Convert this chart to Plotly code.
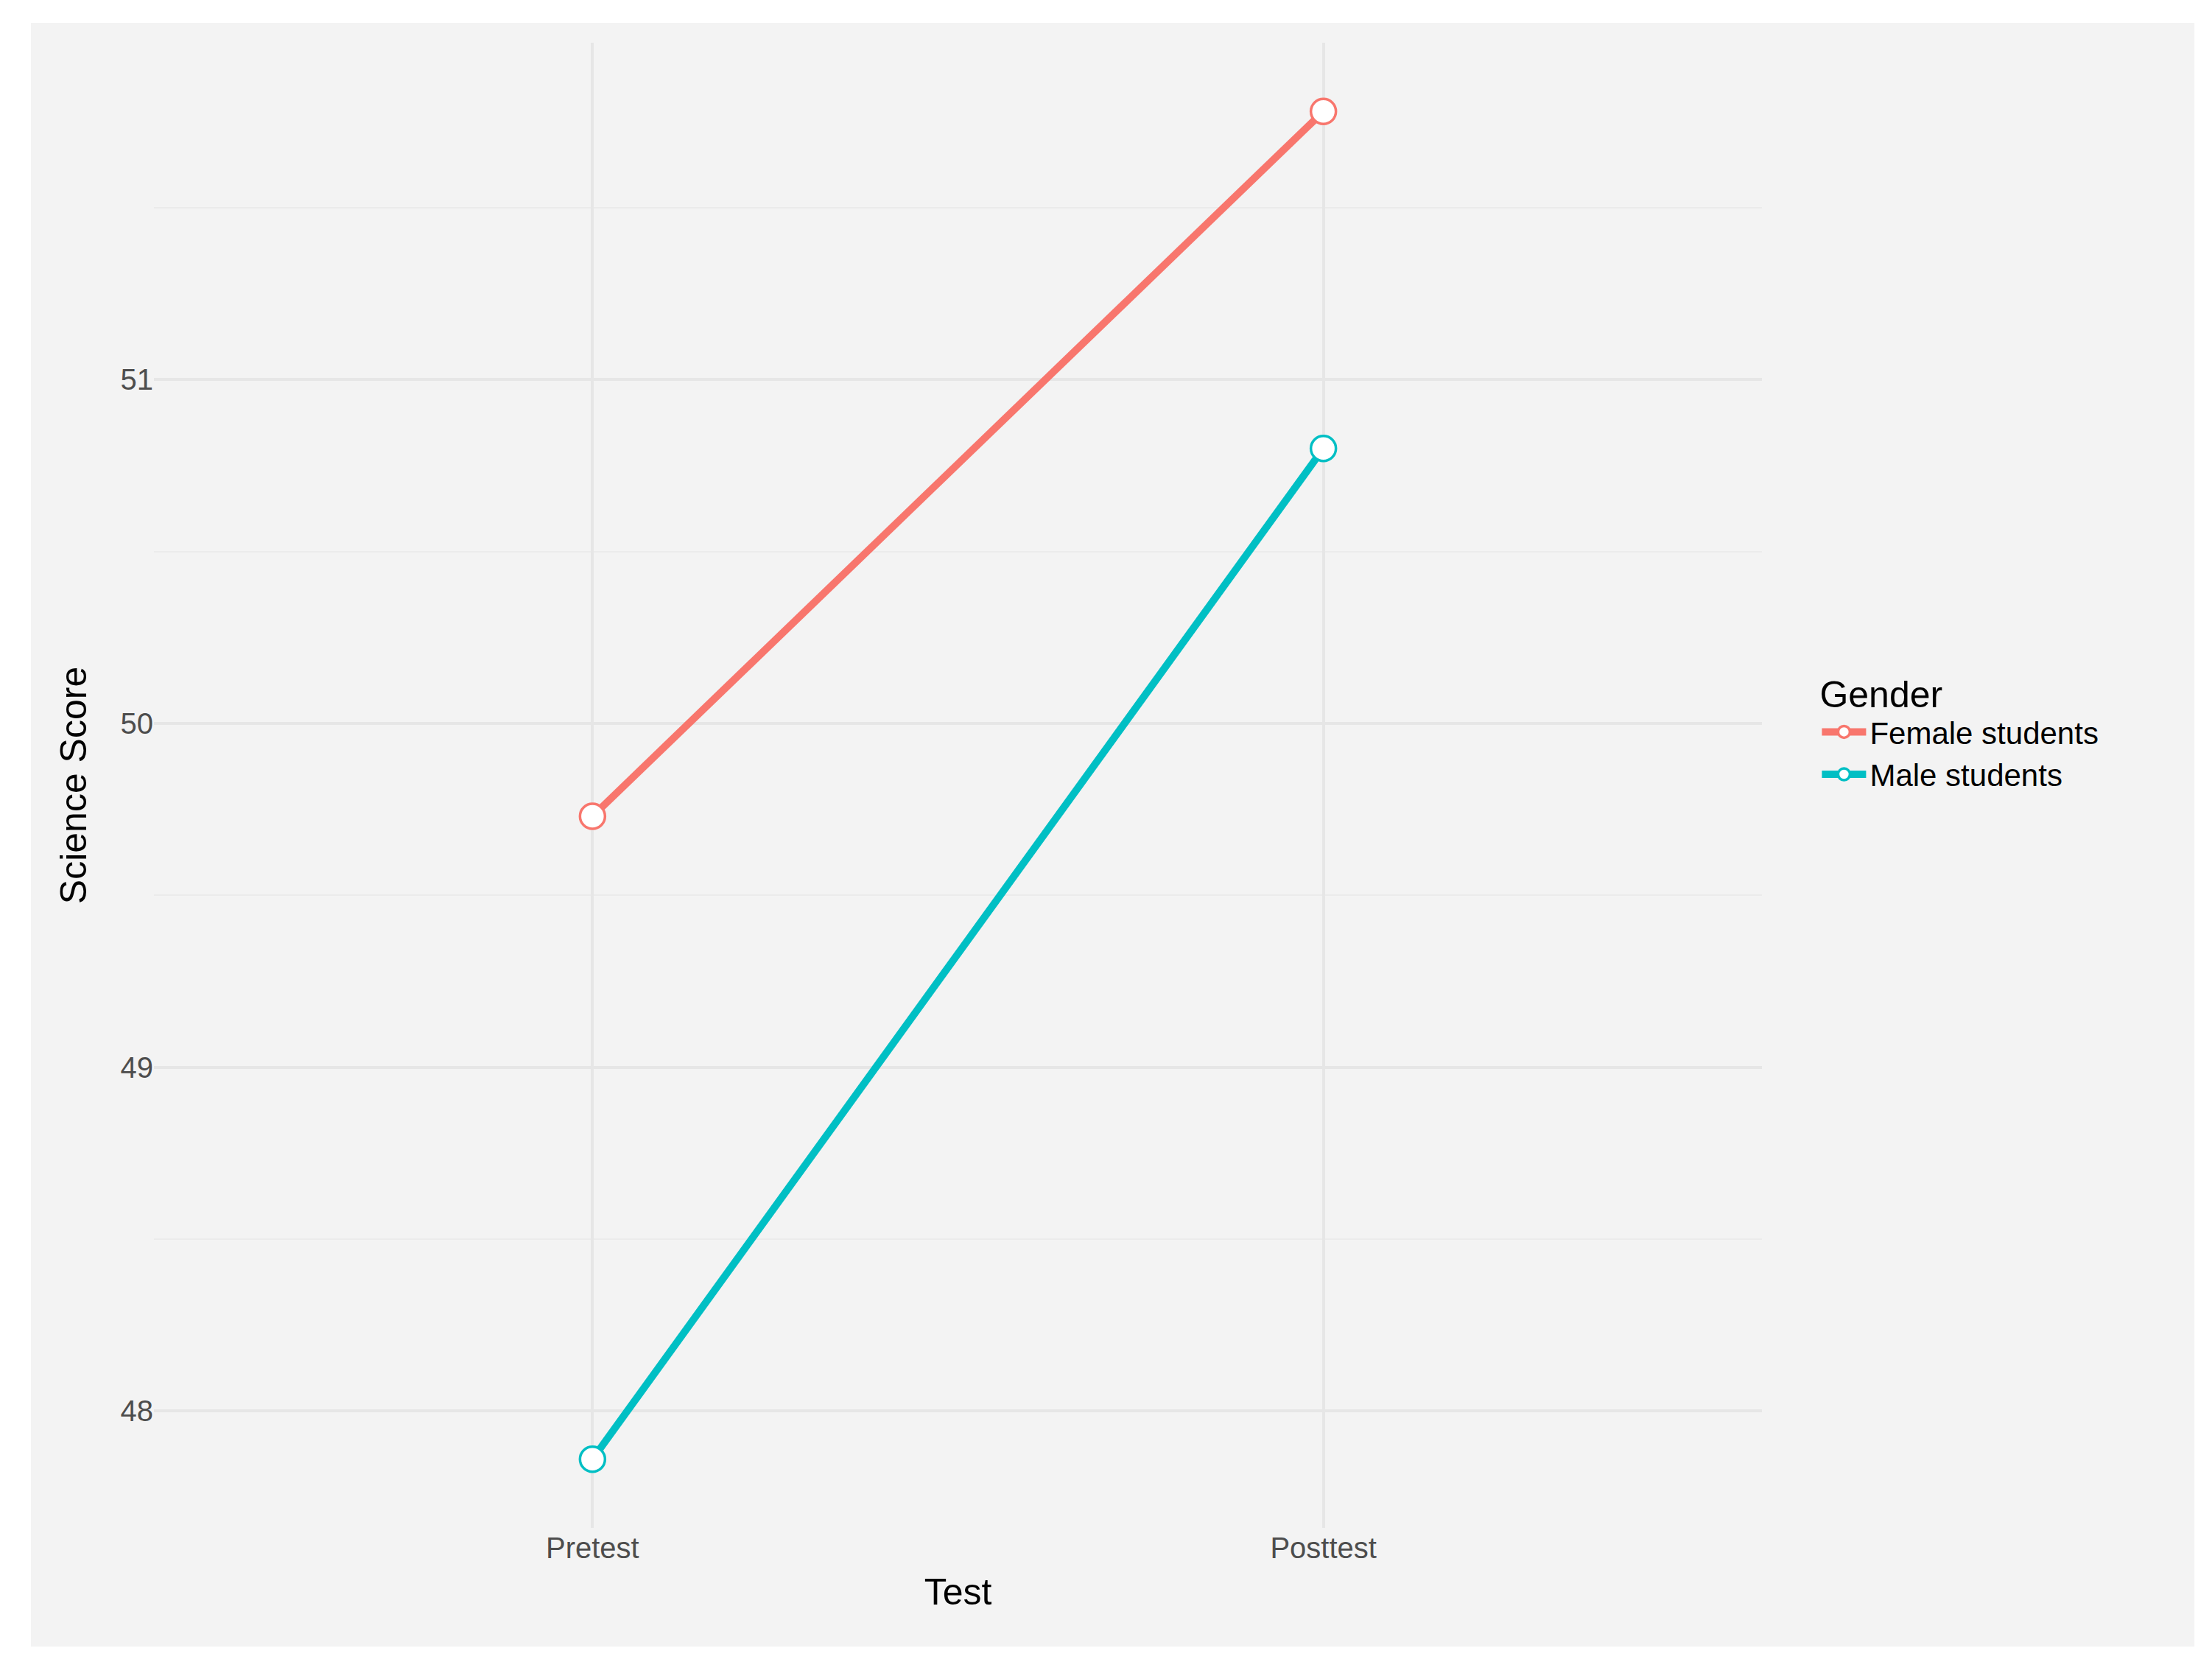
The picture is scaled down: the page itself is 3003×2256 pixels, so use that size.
import plotly.graph_objects as go

tests = ["Pretest", "Posttest"]
female = [49.73, 51.78]
male = [47.86, 50.80]
series_names = ["Female students", "Male students"]
colors = ["#F8766D", "#00BFC4"]

fig = go.Figure()
for name, vals, c in zip(series_names, [female, male], colors):
    fig.add_trace(go.Scatter(
        x=tests, y=vals, mode="lines+markers", name=name,
        line=dict(color=c, width=10),
        marker=dict(symbol="circle", size=34, color="white", line=dict(color=c, width=3.5)),
    ))

fig.add_shape(type="rect", xref="paper", yref="paper", x0=-0.0765, x1=1.269, y0=-0.0799, y1=1.0134,
              fillcolor="#f3f3f3", line=dict(width=0), layer="below")

font = "Liberation Sans, Arial, sans-serif"
fig.update_layout(
    width=3003, height=2256,
    margin=dict(l=201, r=619, t=50, b=190),
    paper_bgcolor="white", plot_bgcolor="rgba(0,0,0,0)",
    font=dict(family=font, color="#4d4d4d"),
    legend=dict(x=1.035, y=0.585, xanchor="left", yanchor="top",
                title=dict(text="Gender", font=dict(size=50, color="black")),
                font=dict(size=42, color="black"), bgcolor="rgba(0,0,0,0)",
                itemwidth=60, tracegroupgap=20),
    xaxis=dict(range=[-0.6, 1.6], showgrid=True, gridcolor="#e6e6e6", gridwidth=4,
               zeroline=False, ticks="", tickfont=dict(size=40, color="#4d4d4d"),
               title=dict(text="Test", font=dict(size=50, color="black"), standoff=20)),
    yaxis=dict(range=[47.66, 51.98], tickvals=[48, 49, 50, 51], showgrid=True,
               gridcolor="#e6e6e6", gridwidth=4, zeroline=False, ticks="",
               minor=dict(tickvals=[48.5, 49.5, 50.5, 51.5], showgrid=True, gridcolor="#ebebeb", gridwidth=2),
               tickfont=dict(size=40, color="#4d4d4d"),
               title=dict(text="Science Score", font=dict(size=50, color="black"), standoff=30)),
)
fig.write_html("out.html")
